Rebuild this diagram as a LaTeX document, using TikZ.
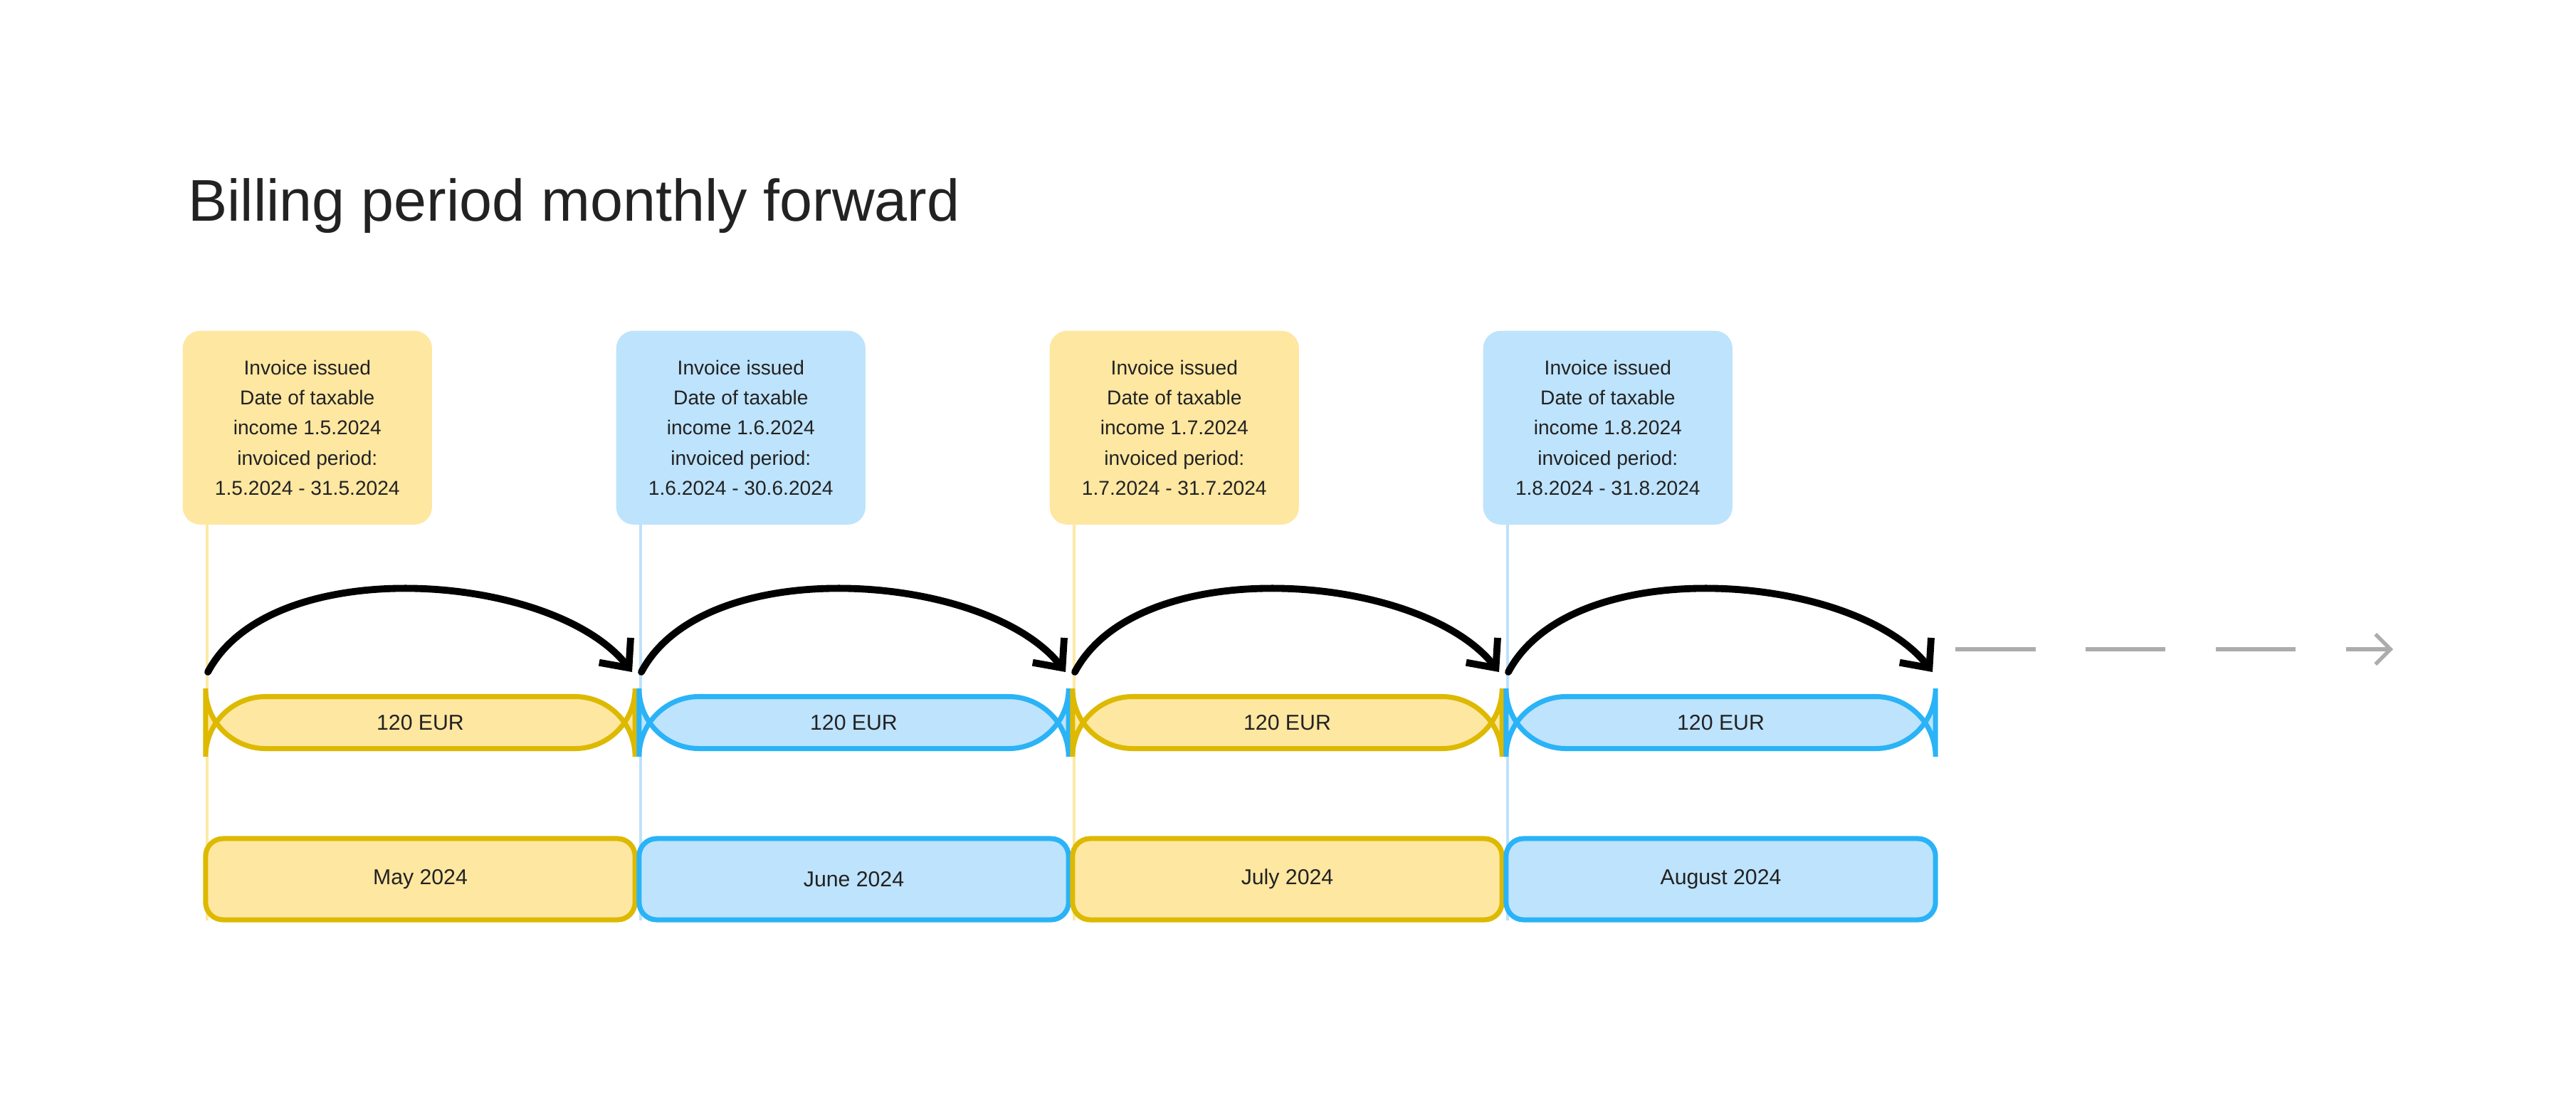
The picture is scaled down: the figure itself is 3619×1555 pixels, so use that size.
\documentclass[tikz,border=0pt]{standalone}
\usepackage{fontspec}
\setmainfont{Liberation Sans}
\usetikzlibrary{arrows.meta,positioning}
\definecolor{ylwfill}{HTML}{FEE7A1}
\definecolor{ylwdraw}{HTML}{DDB900}
\definecolor{ylwline}{HTML}{FDE9A6}
\definecolor{blufill}{HTML}{BEE3FC}
\definecolor{bludraw}{HTML}{2AB3F6}
\definecolor{bluline}{HTML}{BEE1FB}
\definecolor{ink}{HTML}{222222}
\begin{document}
\begin{tikzpicture}[
    x=0.01cm, y=-0.01cm,
    every node/.style={text=ink},
    note/.style={rectangle, rounded corners=7, anchor=north west,
                 minimum width=3.5cm, minimum height=2.72cm, align=center,
                 font=\fontsize{8}{12}\selectfont},
    amount/.style={rectangle, rounded corners=24, line width=2pt,
                   minimum width=6.03cm, minimum height=0.73cm,
                   font=\fontsize{8.6}{10}\selectfont},
    month/.style={rectangle, rounded corners=7, line width=2pt,
                  minimum width=6.03cm, minimum height=1.14cm,
                  font=\fontsize{8.6}{10}\selectfont},
    bigarrow/.style={line width=2.8pt, line cap=round,
                     -{Straight Barb[length=9pt,width=16pt,line width=2.8pt]}}]
    \useasboundingbox (0,0) rectangle (3619,1555);
    \node[anchor=west, font=\fontsize{23.5}{28}\selectfont] (title) at (252,289) {Billing period monthly forward};
    \foreach \i/\mon/\inc/\per/\col in {
        0/May/1.5.2024/{1.5.2024 - 31.5.2024}/ylw,
        1/June/1.6.2024/{1.6.2024 - 30.6.2024}/blu,
        2/July/1.7.2024/{1.7.2024 - 31.7.2024}/ylw,
        3/August/1.8.2024/{1.8.2024 - 31.8.2024}/blu}{
      \pgfmathsetmacro\x{286+609*\i}
      \node[note, fill=\col fill] (note\i) at (\x-30,464)
        {Invoice issued\\Date of taxable\\income \inc\\invoiced period:\\\per};
      \coordinate (top\i) at (\x+5,736);
      \coordinate (bot\i) at (\x+5,1293);
      \draw[\col line, line width=1.4pt] (top\i) -- (bot\i);
      \node[amount, fill=\col fill, draw=\col draw] (amt\i) at (\x+304.5,1015) {120 EUR};
      \node[month, fill=\col fill, draw=\col draw] (mon\i) at (\x+304.5,1235) {\mon{} 2024};
      % hop to next month
      \coordinate (from\i) at (\x+6,944);
      \coordinate (to\i) at (\x+602,944);
      \draw[bigarrow] (from\i) .. controls +(90,-170) and +(-110,-140) .. (to\i);
    }
    \coordinate (dashfrom) at (2747,912);
    \coordinate (dashto) at (3362,912);
    \draw[gray!65, line width=1.5pt, dash pattern=on 32pt off 20pt,
          -{Straight Barb[length=6pt,width=12pt]}]
      (dashfrom) -- (dashto);
\end{tikzpicture}
\end{document}
